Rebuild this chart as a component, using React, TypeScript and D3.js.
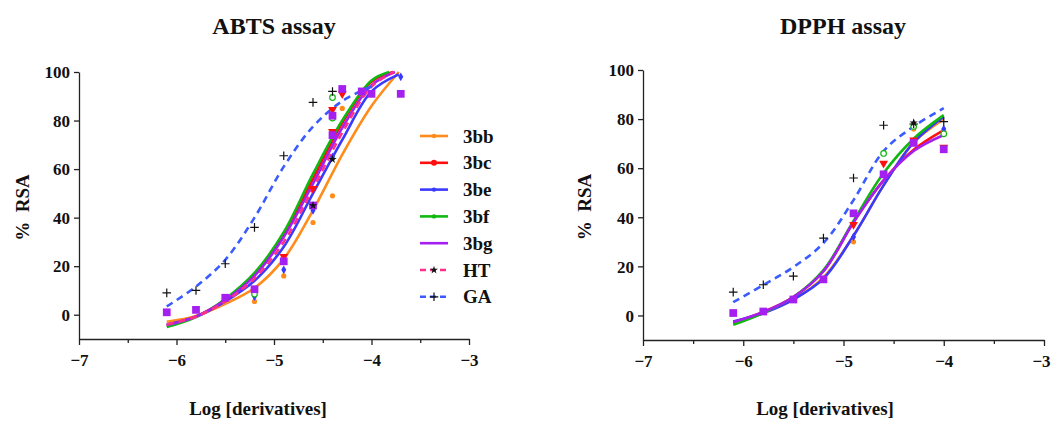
import React, { useEffect, useRef } from "react";
import * as d3 from "d3";

// sample grid for the fitted curves
const knotsX = [-6.1, -5.8, -5.5, -5.2, -4.9, -4.6, -4.3, -4.0];

const seriesNames = ["3bb", "3bc", "3be", "3bf", "3bg", "HT", "GA"];
const seriesColors = ["#ff8c1a", "#ff1010", "#3a3aff", "#10b810", "#a51ff0", "#ff2f8a", "#3a5cff"];

// ABTS: curve y at knotsX, plus the end point where each curve stops
const abtsCurves = [
  [-2.9, -0.5, 4.5, 11, 23, 43, 66, 86],
  [-4.5, -0.7, 6, 16.5, 33, 56, 79, 96],
  [-4, -0.8, 5.5, 14, 28, 50, 72, 92],
  [-5.1, -1, 6.5, 17.2, 34, 58, 80, 96.5],
  [-4.3, -0.8, 6, 16, 32, 54, 77, 94.5],
  [-4, -0.8, 5.5, 15, 30, 52, 75, 94],
  [3.4, 11.6, 22.6, 40, 61, 77.5, 88, 94],
];
const abtsEnds = [[-3.72, 100], [-3.78, 100], [-3.72, 99], [-3.82, 100], [-3.76, 100], [-3.77, 100], [-3.95, 94.6]];

const abtsPoints = [
  [[-5.2, 5.5], [-4.9, 16], [-4.6, 38], [-4.4, 49], [-4.3, 85]],
  [[-4.9, 24], [-4.6, 52], [-4.4, 75.5], [-4.4, 84.5], [-4.3, 91]],
  [[-5.2, 7.5], [-4.9, 18.5], [-4.6, 43], [-4.4, 65], [-3.7, 98]],
  [[-5.2, 8.5], [-4.4, 81], [-4.4, 89.5]],
  [[-6.1, 1], [-5.8, 2], [-5.5, 7], [-5.2, 10.5], [-4.9, 22], [-4.6, 45], [-4.4, 74], [-4.4, 82], [-4.3, 93], [-4.1, 92], [-4.0, 91], [-3.7, 91]],
  [[-4.6, 45], [-4.4, 64]],
  [[-6.1, 9], [-5.8, 10], [-5.5, 21], [-5.2, 36], [-4.9, 65.5], [-4.6, 87.5], [-4.4, 92]],
];

// DPPH: no HT curve visible
const dpphCurves = [
  [-2.8, 1.0, 6.5, 15.5, 32.5, 53, 70.5, 80],
  [-3, 1.4, 7.5, 18, 38, 55, 67.5, 75.5],
  [-2.5, 1.0, 6.5, 15, 32.5, 53, 70.5, 81],
  [-3.8, 1.0, 7.5, 18.5, 38.5, 58, 72, 81.6],
  [-2.7, 1.4, 7.5, 18, 38, 55, 67, 73.5],
  null,
  [5.4, 12.4, 19.7, 29.5, 47, 67, 77, 84.5],
];

const dpphPoints = [
  [[-4.9, 30], [-4.3, 76], [-4.0, 75]],
  [[-4.9, 37], [-4.6, 62], [-4.3, 71.5], [-4.0, 68.5]],
  [[-4.9, 32], [-4.3, 78], [-4.0, 76]],
  [[-4.6, 66], [-4.3, 77], [-4.0, 74]],
  [[-6.1, 1], [-5.8, 1.6], [-5.5, 6.5], [-5.2, 14.7], [-4.9, 41.6], [-4.6, 57.5], [-4.3, 70.3], [-4.0, 67.7]],
  [[-4.3, 78.5]],
  [[-6.1, 9.5], [-5.8, 12.5], [-5.5, 16], [-5.2, 31.5], [-4.9, 56], [-4.6, 77.5], [-4.3, 78], [-4.0, 79]],
];

const xTicks = [-7, -6, -5, -4, -3];
const xMinor = [-6.5, -5.5, -4.5, -3.5];
const yTicks = [0, 20, 40, 60, 80, 100];

const FONT = "'Liberation Serif', 'Times New Roman', serif";
const fmt = d3.format("d");

function drawMarker(g, i, px, py) {
  const c = seriesColors[i];
  if (i === 0) {
    g.append("circle").attr("cx", px).attr("cy", py).attr("r", 2.6).attr("fill", c);
  } else if (i === 1) {
    g.append("path").attr("d", d3.symbol(d3.symbolTriangle, 34)()).attr("transform", `translate(${px},${py}) rotate(180)`).attr("fill", c);
  } else if (i === 2) {
    g.append("path").attr("d", d3.symbol(d3.symbolDiamond, 22)()).attr("transform", `translate(${px},${py})`).attr("fill", c);
  } else if (i === 3) {
    g.append("circle").attr("cx", px).attr("cy", py).attr("r", 2.8).attr("fill", "white").attr("stroke", c).attr("stroke-width", 1.2);
  } else if (i === 4) {
    g.append("path").attr("d", d3.symbol(d3.symbolSquare, 60)()).attr("transform", `translate(${px},${py})`).attr("fill", c);
  } else if (i === 5) {
    g.append("path").attr("d", d3.symbol(d3.symbolStar, 22)()).attr("transform", `translate(${px},${py})`).attr("fill", "#111");
  } else {
    g.append("path").attr("d", d3.symbol(d3.symbolPlus, 26)()).attr("transform", `translate(${px},${py})`).attr("fill", "none").attr("stroke", "#111").attr("stroke-width", 1.2);
  }
}

function drawPanel(svg, opts) {
  const { xr, yr, title, titleX, labelX, ylabX, curves, ends, points, legend } = opts;
  const x = d3.scaleLinear().domain([-7, -3]).range(xr);
  const y = d3.scaleLinear().domain([-10, 100]).range(yr);
  const g = svg.append("g");

  // axes
  const xAxis = g.append("g").attr("transform", `translate(0,${yr[0]})`)
    .call(d3.axisBottom(x).tickValues(xTicks).tickFormat(fmt).tickSize(6).tickSizeOuter(0).tickPadding(5));
  g.append("g").attr("transform", `translate(0,${yr[0]})`)
    .call(d3.axisBottom(x).tickValues(xMinor).tickSize(4).tickFormat(() => "").tickSizeOuter(0))
    .select(".domain").remove();
  const yAxis = g.append("g").attr("transform", `translate(${xr[0]},0)`)
    .call(d3.axisLeft(y).tickValues(yTicks).tickSize(5).tickSizeOuter(0).tickPadding(4));
  [xAxis, yAxis].forEach((a) => {
    a.attr("font-family", FONT);
    a.select(".domain").attr("stroke", "#222").attr("stroke-width", 1.3);
    a.selectAll("text").attr("font-family", FONT).attr("font-weight", "bold").attr("font-size", 17).attr("fill", "#111");
  });
  g.selectAll(".tick line").attr("stroke", "#222").attr("stroke-width", 1.3);
  xAxis.selectAll("text").attr("dy", "0.95em");
  // keep the last label inside the page on the right panel
  xAxis.selectAll("text").filter((d) => d === -3 && xr[1] > 1000).attr("dx", -3);
  yAxis.selectAll("text").attr("dy", "0.34em");

  // curves
  const line = d3.line().x((d) => x(d[0])).y((d) => y(d[1])).curve(d3.curveCatmullRom.alpha(0.5));
  curves.forEach((ys, i) => {
    if (!ys) return;
    const pts = knotsX.map((kx, k) => [kx, ys[k]]);
    if (ends && ends[i]) pts.push(ends[i]);
    g.append("path").attr("d", line(pts)).attr("fill", "none")
      .attr("stroke", seriesColors[i]).attr("stroke-width", 2.6)
      .attr("stroke-dasharray", i >= 5 ? "7,5" : null);
  });

  // points
  const pg = g.append("g");
  points.forEach((arr, i) => arr.forEach((p) => drawMarker(pg, i, x(p[0]), y(p[1]))));

  // texts
  g.append("text").attr("x", titleX).attr("y", 34).attr("text-anchor", "middle")
    .attr("font-family", FONT).attr("font-weight", "bold").attr("font-size", 24).attr("fill", "#111").text(title);
  g.append("text").attr("x", labelX).attr("y", 415).attr("text-anchor", "middle")
    .attr("font-family", FONT).attr("font-weight", "bold").attr("font-size", 19).attr("fill", "#111").text("Log [derivatives]");
  g.append("text").attr("transform", `translate(${ylabX},${(yr[0] + yr[1]) / 2 + 2}) rotate(-90)`)
    .attr("text-anchor", "middle").attr("dominant-baseline", "central").attr("xml:space", "preserve")
    .style("white-space", "pre")
    .attr("font-family", FONT).attr("font-weight", "bold").attr("font-size", 19).attr("fill", "#111").text("%  RSA");

  if (legend) {
    const lg = g.append("g");
    seriesNames.forEach((name, i) => {
      const ly = 136 + i * 26.8;
      lg.append("line").attr("x1", 420).attr("x2", 448).attr("y1", ly).attr("y2", ly)
        .attr("stroke", seriesColors[i]).attr("stroke-width", 2.6)
        .attr("stroke-dasharray", i >= 5 ? "6,4" : null);
      if (i < 4) {
        lg.append("circle").attr("cx", 434).attr("cy", ly).attr("r", i === 1 ? 3 : 2.2).attr("fill", seriesColors[i]);
      } else if (i === 5) {
        lg.append("path").attr("d", d3.symbol(d3.symbolStar, 20)()).attr("transform", `translate(434,${ly})`).attr("fill", "#111");
      } else if (i === 6) {
        lg.append("path").attr("d", d3.symbol(d3.symbolPlus, 26)()).attr("transform", `translate(434,${ly})`).attr("fill", "none").attr("stroke", "#111").attr("stroke-width", 1.2);
      }
      lg.append("text").attr("x", 463).attr("y", ly).attr("dominant-baseline", "central")
        .attr("font-family", FONT).attr("font-weight", "bold").attr("font-size", 19).attr("fill", "#111").text(name);
    });
  }
}

export default function App() {
  const ref = useRef(null);
  useEffect(() => {
    const svg = d3.select(ref.current);
    svg.selectAll("*").remove();
    drawPanel(svg, {
      xr: [79, 469], yr: [339, 72], title: "ABTS assay", titleX: 274, labelX: 258, ylabX: 22,
      curves: abtsCurves, ends: abtsEnds, points: abtsPoints, legend: true,
    });
    drawPanel(svg, {
      xr: [643, 1044], yr: [340, 70], title: "DPPH assay", titleX: 843, labelX: 825, ylabX: 584,
      curves: dpphCurves, ends: null, points: dpphPoints, legend: false,
    });
  }, []);
  return (
    <svg ref={ref} width={1051} height={421}
      style={{ position: "absolute", left: 0, top: 0, background: "white" }} />
  );
}
